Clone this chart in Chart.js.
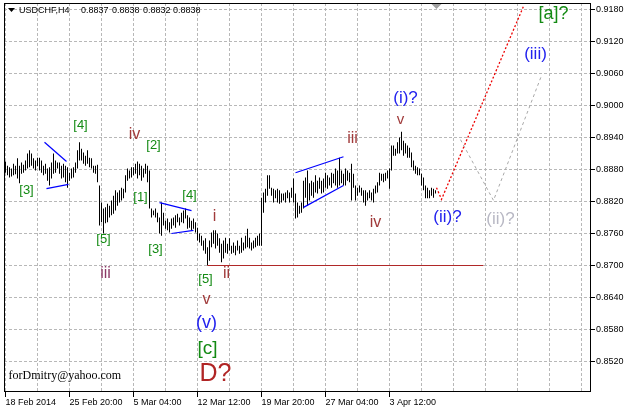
<!DOCTYPE html>
<html><head><meta charset="utf-8">
<script src="https://cdn.jsdelivr.net/npm/chart.js@4"></script>
<style>html,body{margin:0;padding:0;background:#fff;overflow:hidden}#wrap{width:627px;height:411px;position:relative}</style>
</head><body><div id="wrap"><canvas id="c" width="627" height="411"></canvas></div>
<script>
// ---- data ----
const symbolName = "USDCHF,H4";
const quoteValues = ["0.8837", "0.8838", "0.8832", "0.8838"];
const dateLabels = ["18 Feb 2014", "25 Feb 20:00", "5 Mar 04:00", "12 Mar 12:00", "19 Mar 20:00", "27 Mar 04:00", "3 Apr 12:00"];
const dateTickBars = [0, 32, 64, 96, 128, 160, 192];
const gridBars = [0, 16, 32, 48, 64, 80, 96, 112, 128, 144, 160, 176, 192, 208, 224, 240, 256, 272, 288];
const priceTicks = [0.9180, 0.9120, 0.9060, 0.9000, 0.8940, 0.8880, 0.8820, 0.8760, 0.8700, 0.8640, 0.8580, 0.8520];

const highs = [
0.8895,0.8887,0.8884,0.8882,0.8891,0.8887,0.8901,0.8887,0.8893,0.8889,
0.8897,0.8910,0.8916,0.8910,0.8901,0.8897,0.8902,0.8902,0.8897,0.8887,
0.8891,0.8882,0.8884,0.8893,0.8910,0.8897,0.8893,0.8893,0.8887,0.8891,
0.8887,0.8884,0.8874,0.8882,0.8884,0.8893,0.8916,0.8931,0.8919,0.8912,
0.8906,0.8916,0.8902,0.8901,0.8887,0.8887,0.8889,0.8850,0.8818,0.8807,
0.8809,0.8816,0.8812,0.8822,0.8831,0.8841,0.8837,0.8841,0.8846,0.8844,
0.8869,0.8882,0.8878,0.8884,0.8884,0.8891,0.8895,0.8891,0.8887,0.8882,
0.8891,0.8887,0.8878,0.8807,0.8803,0.8807,0.8799,0.8790,0.8818,0.8799,
0.8784,0.8788,0.8781,0.8788,0.8790,0.8794,0.8797,0.8790,0.8799,0.8803,
0.8807,0.8794,0.8790,0.8784,0.8788,0.8781,0.8771,0.8760,0.8756,0.8747,
0.8751,0.8734,0.8747,0.8762,0.8766,0.8766,0.8760,0.8751,0.8741,0.8747,
0.8752,0.8741,0.8751,0.8737,0.8743,0.8737,0.8747,0.8737,0.8752,0.8743,
0.8756,0.8769,0.8752,0.8743,0.8747,0.8752,0.8756,0.8760,0.8827,0.8837,
0.8844,0.8869,0.8869,0.8846,0.8844,0.8841,0.8844,0.8841,0.8835,0.8835,
0.8837,0.8841,0.8837,0.8846,0.8863,0.8835,0.8818,0.8812,0.8818,0.8859,
0.8865,0.8878,0.8854,0.8859,0.8856,0.8869,0.8859,0.8865,0.8859,0.8863,
0.8874,0.8869,0.8865,0.8874,0.8872,0.8882,0.8878,0.8902,0.8878,0.8872,
0.8882,0.8878,0.8874,0.8891,0.8872,0.8850,0.8846,0.8850,0.8846,0.8841,
0.8841,0.8837,0.8841,0.8837,0.8844,0.8850,0.8856,0.8874,0.8872,0.8872,
0.8874,0.8878,0.8882,0.8925,0.8925,0.8919,0.8931,0.8940,0.8951,0.8934,
0.8929,0.8925,0.8921,0.8912,0.8897,0.8887,0.8884,0.8882,0.8872,0.8865,
0.8850,0.8846,0.8841,0.8846,0.8844,0.8841];
const lows = [
0.8874,0.8869,0.8865,0.8867,0.8869,0.8871,0.8863,0.8854,0.8872,0.8874,
0.8878,0.8882,0.8884,0.8887,0.8882,0.8878,0.8886,0.8878,0.8874,0.8869,
0.8872,0.8859,0.8850,0.8863,0.8872,0.8874,0.8882,0.8872,0.8863,0.8865,
0.8856,0.8846,0.8859,0.8863,0.8865,0.8874,0.8882,0.8897,0.8897,0.8891,
0.8887,0.8891,0.8884,0.8882,0.8874,0.8872,0.8856,0.8775,0.8781,0.8760,
0.8779,0.8781,0.8790,0.8794,0.8797,0.8803,0.8812,0.8818,0.8822,0.8826,
0.8837,0.8859,0.8863,0.8865,0.8869,0.8872,0.8863,0.8869,0.8859,0.8865,
0.8872,0.8856,0.8807,0.8790,0.8794,0.8790,0.8781,0.8760,0.8756,0.8775,
0.8769,0.8766,0.8762,0.8769,0.8775,0.8771,0.8781,0.8775,0.8781,0.8779,
0.8788,0.8769,0.8771,0.8766,0.8769,0.8762,0.8747,0.8743,0.8737,0.8728,
0.8722,0.8700,0.8709,0.8734,0.8741,0.8732,0.8737,0.8724,0.8706,0.8713,
0.8724,0.8722,0.8728,0.8722,0.8724,0.8719,0.8728,0.8722,0.8724,0.8728,
0.8732,0.8734,0.8732,0.8728,0.8732,0.8734,0.8737,0.8737,0.8737,0.8799,
0.8818,0.8831,0.8844,0.8831,0.8818,0.8826,0.8818,0.8816,0.8818,0.8822,
0.8818,0.8826,0.8818,0.8827,0.8818,0.8788,0.8790,0.8797,0.8799,0.8807,
0.8827,0.8812,0.8822,0.8831,0.8827,0.8837,0.8835,0.8844,0.8835,0.8837,
0.8846,0.8844,0.8850,0.8846,0.8854,0.8850,0.8846,0.8850,0.8854,0.8850,
0.8850,0.8859,0.8856,0.8822,0.8846,0.8822,0.8831,0.8837,0.8831,0.8818,
0.8812,0.8822,0.8826,0.8822,0.8818,0.8835,0.8837,0.8850,0.8859,0.8856,
0.8859,0.8863,0.8844,0.8878,0.8906,0.8906,0.8910,0.8910,0.8916,0.8906,
0.8910,0.8902,0.8902,0.8884,0.8878,0.8872,0.8869,0.8869,0.8850,0.8841,
0.8826,0.8826,0.8826,0.8831,0.8827,0.8835];

// trend lines: [bar, price]
const triangle1Upper = [[19.5, 0.8931], [30.5, 0.8895]];
const triangle1Lower = [[20.5, 0.8844], [31.5, 0.8852]];
const triangle2Upper = [[77, 0.8818], [93, 0.8803]];
const triangle2Lower = [[83, 0.8760], [94, 0.8766]];
const wedgeUpper = [[145, 0.8874], [169, 0.8904]];
const wedgeLower = [[149, 0.8809], [169, 0.8850]];
const supportLevel = [[101, 0.8700], [239, 0.8700]];
const forecastMain = [[215.5, 0.8846], [218, 0.8824], [259, 0.9186]];
const forecastAlt = [[227.5, 0.8936], [244, 0.8822], [268, 0.9056]];

// wave labels
const waveLabels = [
  {t:"[3]", x:10.5, y:0.8841, c:"#138a13", s:13},
  {t:"[4]", x:37.5, y:0.8963, c:"#138a13", s:13},
  {t:"iv", x:64.5, y:0.8946, c:"#a03a3a", s:16},
  {t:"[2]", x:74, y:0.8925, c:"#138a13", s:13},
  {t:"[1]", x:67.5, y:0.8827, c:"#138a13", s:13},
  {t:"[4]", x:92, y:0.8831, c:"#138a13", s:13},
  {t:"[5]", x:49, y:0.8749, c:"#138a13", s:13},
  {t:"[3]", x:75, y:0.8730, c:"#138a13", s:13},
  {t:"iii", x:50, y:0.8685, c:"#8c3a66", s:16},
  {t:"i", x:104.5, y:0.8792, c:"#a03a3a", s:16},
  {t:"ii", x:110.5, y:0.8685, c:"#a03a3a", s:16},
  {t:"[5]", x:100, y:0.8674, c:"#138a13", s:13},
  {t:"v", x:100.5, y:0.8636, c:"#a03a3a", s:16},
  {t:"(v)", x:100.5, y:0.8593, c:"#2222ee", s:18},
  {t:"[c]", x:101, y:0.8544, c:"#138a13", s:19},
  {t:"D?", x:105, y:0.8496, c:"#b02525", s:25},
  {t:"iii", x:173.5, y:0.8938, c:"#a03a3a", s:16},
  {t:"iv", x:185, y:0.8781, c:"#a03a3a", s:16},
  {t:"(i)?", x:200, y:0.9013, c:"#2222ee", s:17},
  {t:"v", x:197.5, y:0.8974, c:"#a03a3a", s:15},
  {t:"(ii)?", x:221, y:0.8790, c:"#2222ee", s:17},
  {t:"(ii)?", x:247.5, y:0.8786, c:"#b8b8c4", s:17},
  {t:"[a]?", x:274, y:0.9172, c:"#138a13", s:18},
  {t:"(iii)", x:265, y:0.9096, c:"#2222ee", s:17}
];
const signature = {t:"forDmitry@yahoo.com", x:1.5, y:0.8494};

// ---- chart ----
const pts = a => a.map(p => ({x: p[0], y: p[1]}));
const lineDs = (a, color, dash, w) => ({
  type: 'line', data: pts(a), borderColor: color, borderWidth: w || 1,
  borderDash: dash || [], pointRadius: 0, fill: false, tension: 0, order: 1
});

const overlay = {
  id: 'overlay',
  afterDatasetsDraw(chart) {
    const {ctx, chartArea: a, scales: {x, y}} = chart;
    ctx.save();
    ctx.textAlign = 'center'; ctx.textBaseline = 'middle';
    waveLabels.forEach(l => {
      ctx.fillStyle = l.c;
      ctx.font = l.s + 'px "Liberation Sans", Arial, sans-serif';
      ctx.fillText(l.t, x.getPixelForValue(l.x), y.getPixelForValue(l.y));
    });
    ctx.textAlign = 'left';
    ctx.fillStyle = '#000';
    ctx.font = '12px "Liberation Serif", "Times New Roman", serif';
    ctx.fillText(signature.t, x.getPixelForValue(signature.x), y.getPixelForValue(signature.y));
    // shift marker at last bar
    const sx = Math.round(x.getPixelForValue(highs.length - 1)) + 0.5;
    ctx.fillStyle = '#a0a0a0';
    ctx.beginPath(); ctx.moveTo(sx - 5, a.top + 1); ctx.lineTo(sx + 5, a.top + 1); ctx.lineTo(sx, a.top + 6); ctx.closePath(); ctx.fill();
    // frame
    ctx.strokeStyle = '#000'; ctx.lineWidth = 1;
    ctx.strokeRect(a.left + 0.5, a.top + 0.5, a.right - a.left - 1, a.bottom - a.top - 1);
    // title
    ctx.fillStyle = '#000';
    ctx.beginPath(); ctx.moveTo(8, 8); ctx.lineTo(15, 8); ctx.lineTo(11.5, 12); ctx.closePath(); ctx.fill();
    ctx.font = '9px "Liberation Sans", Arial, sans-serif';
    ctx.textBaseline = 'middle';
    ctx.fillText(symbolName, 19, 10.5);
    const qx = [81, 112, 143, 173];
    quoteValues.forEach((q, i) => ctx.fillText(q, qx[i], 10.5));
    ctx.restore();
  }
};

new Chart(document.getElementById('c'), {
  type: 'bar',
  data: {
    datasets: [
      {type: 'bar', data: highs.map((h, i) => ({x: i, y: [lows[i], h]})), backgroundColor: '#000',
       borderWidth: 0, barThickness: 1, inflateAmount: 0, grouped: false, order: 10},
      lineDs(triangle1Upper, '#0000ff', [], 1.2),
      lineDs(triangle1Lower, '#0000ff', [], 1.2),
      lineDs(triangle2Upper, '#0000ff', [], 1.2),
      lineDs(triangle2Lower, '#0000ff', [], 1.2),
      lineDs(wedgeUpper, '#0000ff', [], 1.2),
      lineDs(wedgeLower, '#0000ff', [], 1.2),
      lineDs(supportLevel, '#b02828', [], 1),
      lineDs(forecastMain, '#ee0000', [2, 2], 1.3),
      lineDs(forecastAlt, '#a8a8a8', [3, 3], 1)
    ]
  },
  options: {
    responsive: false, animation: false, devicePixelRatio: 1,
    layout: {padding: {left: 4, top: 3, right: 0, bottom: 0}},
    plugins: {legend: {display: false}, tooltip: {enabled: false}},
    scales: {
      x: {
        type: 'linear', min: -0.75, max: 292.75, offset: false, position: 'bottom',
        afterBuildTicks: s => { s.ticks = gridBars.map(v => ({value: v})); },
        afterFit: s => { s.height = 19; s.paddingLeft = 0; s.paddingRight = 0; },
        grid: {offset: false, color: '#b8b8b8', lineWidth: 1, drawTicks: true, tickLength: 5,
               tickColor: c => (dateTickBars.indexOf(c.tick && c.tick.value) >= 0 ? '#000' : 'rgba(0,0,0,0)'),
               tickBorderDash: []},
        border: {display: false, dash: [3, 2]},
        ticks: {autoSkip: false, maxRotation: 0, minRotation: 0, align: 'start', padding: 0, color: '#000',
                font: {family: '"Liberation Sans", Arial, sans-serif', size: 9},
                callback: v => { const k = dateTickBars.indexOf(v); return k >= 0 ? dateLabels[k] : ''; }}
      },
      y: {
        type: 'linear', position: 'right', min: 0.84628125, max: 0.91921875, beginAtZero: false,
        afterBuildTicks: s => { s.ticks = priceTicks.map(v => ({value: v})); },
        afterFit: s => { s.width = 36; s.paddingTop = 0; s.paddingBottom = 0; },
        grid: {color: '#b8b8b8', lineWidth: 1, drawTicks: true, tickLength: 4, tickColor: '#000', tickBorderDash: []},
        border: {display: false, dash: [3, 2]},
        ticks: {padding: 1, color: '#000', autoSkip: false,
                font: {family: '"Liberation Sans", Arial, sans-serif', size: 9},
                callback: v => v.toFixed(4)}
      }
    }
  },
  plugins: [overlay]
});
</script></body></html>
